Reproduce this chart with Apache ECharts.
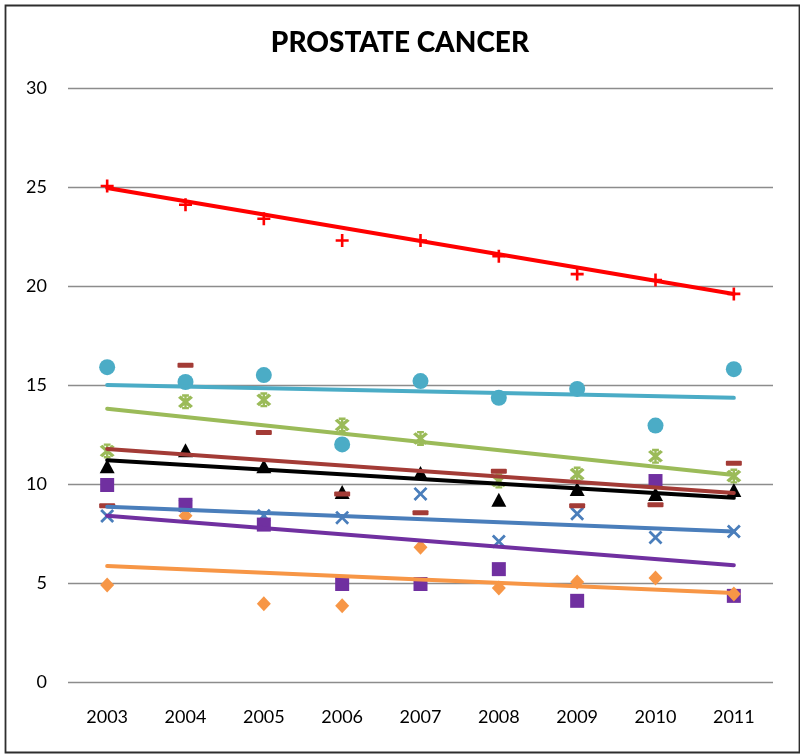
<!DOCTYPE html>
<html>
<head>
<meta charset="utf-8">
<script src="https://cdn.jsdelivr.net/npm/echarts@6/dist/echarts.min.js"></script>
<style>html,body{margin:0;padding:0;background:#fff}#c{width:800px;height:754px}</style>
</head>
<body>
<div id="c"></div>
<script>
const years = ['2003','2004','2005','2006','2007','2008','2009','2010','2011'];
const yTicks = [0, 5, 10, 15, 20, 25, 30];

const orangeVals = [4.9, 8.4, 3.95, 3.85, 6.8, 4.75, 5.05, 5.25, 4.45];
const purpleVals = [9.95, 8.95, 7.95, 4.95, 4.95, 5.7, 4.1, 10.15, 4.35];
const blueVals   = [8.38, 8.9, 8.4, 8.3, 9.5, 7.1, 8.5, 7.3, 7.6];
const blackVals  = [10.9, 11.7, 10.9, 9.6, 10.55, 9.2, 9.75, 9.5, 9.7];
const greenVals  = [11.67, 14.15, 14.25, 12.98, 12.3, 10.15, 10.5, 11.4, 10.4];
const brownVals  = [8.9, 16.0, 12.6, 9.5, 8.55, 10.65, 8.9, 8.95, 11.05];
const cyanVals   = [15.9, 15.15, 15.5, 12.0, 15.2, 14.35, 14.8, 12.95, 15.8];
const redVals    = [25.05, 24.1, 23.4, 22.3, 22.3, 21.5, 20.6, 20.3, 19.6];

// trend line end values (at 2003 and 2011)
const orangeTrend = [5.86, 4.5];
const purpleTrend = [8.4, 5.9];
const blueTrend   = [8.85, 7.6];
const blackTrend  = [11.2, 9.3];
const greenTrend  = [13.8, 10.45];
const brownTrend  = [11.77, 9.55];
const cyanTrend   = [15.0, 14.35];
const redTrend    = [24.95, 19.6];

const SYM_PLUS = 'path://M4,0h2v10h-2zM0,4h10v2h-10z';
const SYM_X = 'path://M1.4,0L5,3.6L8.6,0L10,1.4L6.4,5L10,8.6L8.6,10L5,6.4L1.4,10L0,8.6L3.6,5L0,1.4z';
const SYM_STAR = 'path://M0.6,2.2L2.2,0.8L9.4,7.8L7.8,9.2zM7.8,0.8L9.4,2.2L2.2,9.2L0.6,7.8zM3,0h4v1.6h-4zM3,8.4h4v1.6h-4zM4.3,0h1.4v10h-1.4z';
const SYM_DASH = 'path://M1,0h14a1,1 0 0 1 1,1v3a1,1 0 0 1 -1,1h-14a1,1 0 0 1 -1,-1v-3a1,1 0 0 1 1,-1z';

const defs = [
  {name:'blue',   color:'#4A7EBB', vals:blueVals,   trend:blueTrend,   symbol:SYM_X, size:14},
  {name:'black',  color:'#000000', vals:blackVals,  trend:blackTrend,  symbol:'triangle', size:[15,14]},
  {name:'green',  color:'#9BBB59', vals:greenVals,  trend:greenTrend,  symbol:SYM_STAR, size:15},
  {name:'brown',  color:'#A33B36', vals:brownVals,  trend:brownTrend,  symbol:SYM_DASH, size:[16,5]},
  {name:'cyan',   color:'#4BACC6', vals:cyanVals,   trend:cyanTrend,   symbol:'circle', size:16},
  {name:'red',    color:'#FF0000', vals:redVals,    trend:redTrend,    symbol:SYM_PLUS, size:13},
  {name:'purple', color:'#7030A0', vals:purpleVals, trend:purpleTrend, symbol:'rect', size:14},
  {name:'orange', color:'#F79646', vals:orangeVals, trend:orangeTrend, symbol:'diamond', size:[14,15]}
];
const orderedSeries = [];
defs.forEach(d => {
  orderedSeries.push({
    name: d.name, type: 'scatter', data: d.vals, symbol: d.symbol, symbolSize: d.size,
    itemStyle: {color: d.color, opacity: 1}, z: 2, silent: true
  });
});
defs.forEach(d => {
  orderedSeries.push({
    name: d.name + ' trend', type: 'line', data: [[0, d.trend[0]], [years.length - 1, d.trend[1]]],
    showSymbol: false, symbol: 'none', lineStyle: {color: d.color, width: 4, cap: 'round'}, z: 3, silent: true
  });
});

const chart = echarts.init(document.getElementById('c'), null, {renderer: 'canvas'});
chart.setOption({
  animation: false,
  backgroundColor: '#ffffff',
  title: {
    text: 'PROSTATE CANCER', left: 'center', top: 24,
    textStyle: {fontFamily: 'Lato', fontWeight: 900, fontSize: 28, color: '#000'}
  },
  graphic: [{
    type: 'rect', left: 3, top: 3, shape: {x: 0, y: 0, width: 794, height: 747},
    style: {fill: 'none', stroke: '#2e2e2e', lineWidth: 1.8}, silent: true
  }],
  grid: {left: 68, right: 27, top: 88, bottom: 72},
  xAxis: {
    type: 'category', data: years, boundaryGap: true,
    axisLine: {show: false}, axisTick: {show: false},
    axisLabel: {fontFamily: 'Lato', fontSize: 18, color: '#000', margin: 26}
  },
  yAxis: {
    type: 'value', min: yTicks[0], max: yTicks[yTicks.length - 1], interval: 5,
    axisLine: {show: false}, axisTick: {show: false},
    axisLabel: {fontFamily: 'Lato', fontSize: 18, color: '#000', margin: 21},
    splitLine: {lineStyle: {color: '#8c8c8c', width: 1.3}}
  },
  series: orderedSeries
});
</script>
</body>
</html>
